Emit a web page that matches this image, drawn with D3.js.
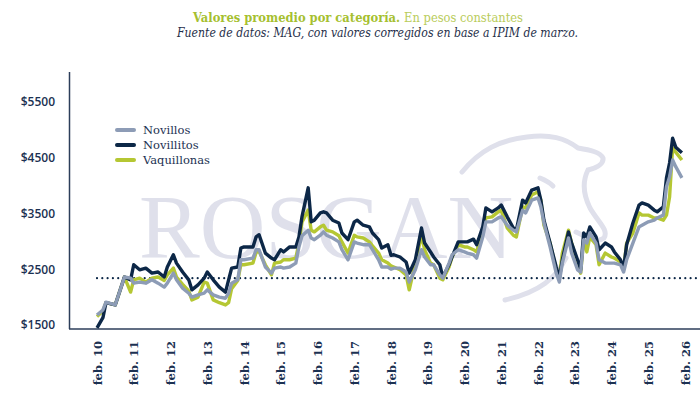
<!DOCTYPE html>
<html>
<head>
<meta charset="utf-8">
<script src="https://cdn.jsdelivr.net/npm/d3@7/dist/d3.min.js"></script>
<style>
  html, body { margin: 0; padding: 0; background: #ffffff; }
  svg { display: block; }
</style>
</head>
<body>
<svg id="chart" width="700" height="399"></svg>
<script>
// ---------------- DATA ----------------
const fechas = ["2010-02","2010-04","2010-05","2010-08","2010-11","2011-01","2011-02","2011-04","2011-06","2011-08","2011-10","2011-12",
"2012-01","2012-03","2012-04","2012-06","2012-08","2012-09","2012-11","2013-01","2013-02","2013-04","2013-06","2013-08","2013-09","2013-10","2013-12",
"2014-01","2014-02","2014-05","2014-06","2014-07","2014-09","2014-11","2014-12","2015-02","2015-03","2015-05","2015-07","2015-08","2015-09","2015-11","2015-12",
"2016-01","2016-03","2016-04","2016-05","2016-07","2016-09","2016-10","2016-12","2017-02","2017-03","2017-05","2017-07","2017-08","2017-10","2017-11",
"2018-01","2018-02","2018-03","2018-05","2018-07","2018-08","2018-10","2018-12","2019-01","2019-03","2019-04","2019-06","2019-07","2019-09","2019-10","2019-12",
"2020-02","2020-03","2020-05","2020-06","2020-08","2020-09","2020-11","2021-01","2021-02","2021-04","2021-06","2021-07","2021-09","2021-10","2021-12",
"2022-02","2022-03","2022-04","2022-06","2022-08","2022-09","2022-10","2022-12","2023-01","2023-03","2023-04","2023-05","2023-06","2023-07","2023-09","2023-10","2023-12",
"2024-02","2024-03","2024-05","2024-06","2024-07","2024-09","2024-11","2024-12","2025-02","2025-04","2025-05","2025-07","2025-08","2025-09","2025-10","2025-11","2026-01"];

const novillos = [1680,1770,1910,1860,2360,2340,2250,2270,2250,2310,2250,2180,
2250,2430,2310,2160,2070,2000,2040,2070,2130,2040,2000,1980,2070,2250,2310,
2670,2670,2700,2850,2850,2540,2430,2520,2540,2520,2540,2610,2900,3100,3200,3060,
3030,3110,3170,3110,3060,2990,2850,2670,2990,2970,2940,2940,2850,2670,2540,
2540,2500,2520,2520,2450,2270,2490,2850,2720,2580,2580,2400,2340,2610,2760,2850,
2810,2790,2760,2700,3080,3350,3350,3420,3440,3290,3200,3170,3560,3510,3740,
3780,3620,3330,2900,2430,2270,2610,3060,2790,2490,2450,3030,2970,3150,2970,2670,2610,
2610,2610,2580,2450,2670,2970,3260,3290,3350,3380,3420,3470,3980,4160,4460,4340,4140];

const novillitos = [1450,1630,1900,1860,2360,2310,2580,2490,2520,2430,2450,2360,
2540,2760,2610,2450,2310,2130,2220,2340,2450,2310,2180,2090,2310,2520,2540,
2880,2900,2900,3080,3120,2790,2700,2670,2850,2810,2900,2900,3080,3450,3960,3350,
3380,3510,3530,3510,3380,3330,3150,3030,3350,3380,3290,3260,3150,3030,2880,
2940,2750,2760,2720,2630,2430,2670,3240,2970,2810,2720,2580,2360,2580,2720,2990,
2990,2990,3040,2940,3260,3600,3530,3600,3650,3440,3240,3200,3740,3690,3920,
3960,3740,3380,2970,2540,2340,2670,3170,2970,2670,2490,3150,3080,3260,3080,2850,2970,
2900,2810,2670,2520,2940,3330,3650,3690,3650,3560,3530,3620,4140,4410,4850,4690,4590];

const vaquillonas = [1650,1750,1900,1860,2360,2090,2310,2340,2270,2340,2360,2300,
2400,2520,2360,2230,2110,1950,2000,2270,2250,1950,1900,1860,1900,2150,2300,
2580,2580,2610,2800,2820,2580,2400,2610,2630,2670,2670,2700,2970,3350,3560,3200,
3170,3260,3290,3200,3170,3100,2990,2790,3110,3080,3060,2990,2920,2790,2670,
2610,2560,2540,2490,2400,2130,2610,3110,2850,2610,2580,2340,2310,2540,2720,2940,
2900,2900,2850,2810,3200,3420,3440,3530,3560,3240,3110,3080,3620,3600,3830,
3890,3740,3290,2970,2490,2360,2790,3200,2970,2610,2430,3030,2810,3080,2940,2580,2790,
2720,2700,2630,2490,2970,3150,3510,3470,3470,3420,3420,3380,3470,3800,4680,4600,4460];

const promedioHistorico = 2340;
const ticksY = [1500, 2500, 3500, 4500, 5500];
const aniosX = [2010,2011,2012,2013,2014,2015,2016,2017,2018,2019,2020,2021,2022,2023,2024,2025,2026];
const etiquetasX = ["feb. 10","feb. 11","feb. 12","feb. 13","feb. 14","feb. 15","feb. 16","feb. 17","feb. 18","feb. 19","feb. 20","feb. 21","feb. 22","feb. 23","feb. 24","feb. 25","feb. 26"];
const series = ["Novillos", "Novillitos", "Vaquillonas"];
const colores = {"Novillos": "#8d9cb6", "Novillitos": "#0c2747", "Vaquillonas": "#b5c733"};

// ---------------- CHART ----------------
const svg = d3.select("#chart");
const navy = "#1c3152";
const parse = d3.timeParse("%Y-%m");
const dates = fechas.map(parse);

const x = d3.scaleTime()
  .domain([new Date(2010, 1, 1), new Date(2026, 1, 1)])
  .range([97, 685]);
const y = d3.scaleLinear()
  .domain([1428, 6038])
  .range([329, 72]);

// Title (one text element, two styled spans)
const t1 = svg.append("text")
  .attr("x", 193).attr("y", 22)
  .attr("font-family", "DejaVu Serif").attr("font-size", 12)
  .attr("textLength", 330).attr("lengthAdjust", "spacingAndGlyphs");
t1.append("tspan").attr("font-weight", "bold").attr("fill", "#a6bf30")
  .text("Valores promedio por categoría. ");
t1.append("tspan").attr("fill", "#b9cc5a").text("En pesos constantes");

svg.append("text")
  .attr("x", 177).attr("y", 37)
  .attr("font-family", "DejaVu Serif").attr("font-style", "italic").attr("font-size", 12.5)
  .attr("fill", "#1f2f4a")
  .attr("textLength", 401).attr("lengthAdjust", "spacingAndGlyphs")
  .text("Fuente de datos: MAG, con valores corregidos en base a IPIM de marzo.");

// Watermark
const wm = svg.append("g").attr("class", "watermark");
wm.append("text")
  .attr("x", 139).attr("y", 258)
  .attr("font-family", "Liberation Serif").attr("font-size", 91)
  .attr("fill", "#dfe0eb")
  .text("ROSGAN");
const bull = [
  "M462,172 C480,150 500,140 527,137 C550,134 565,138 578,148 C590,150 600,152 603,158 C604,165 596,168 588,170 C582,182 584,196 590,208 C598,222 609,230 604,238 C596,244 585,236 576,232",
  "M566,258 C556,278 540,292 505,300",
  "M540,178 C545,180 550,183 553,186"
];
wm.selectAll("path.bull").data(bull).join("path")
  .attr("class", "bull")
  .attr("d", d => d)
  .attr("fill", "none")
  .attr("stroke", "#dfe0eb")
  .attr("stroke-width", 5)
  .attr("stroke-linecap", "round");

// Axes lines
svg.append("line")
  .attr("x1", 69.5).attr("x2", 69.5).attr("y1", y(6038)).attr("y2", y(1428))
  .attr("stroke", "#2c3e5a").attr("stroke-width", 1.5);
svg.append("line")
  .attr("x1", 69).attr("x2", 700).attr("y1", y(1428)).attr("y2", y(1428))
  .attr("stroke", "#2c3e5a").attr("stroke-width", 1.5);

// Y axis labels
const yAxis = d3.axisLeft(y).tickValues(ticksY).tickSize(0).tickPadding(0)
  .tickFormat(d => "$" + d);
const gy = svg.append("g").attr("transform", "translate(55,0)").call(yAxis);
gy.select(".domain").remove();
gy.selectAll("text")
  .attr("font-family", "Open Sans").attr("font-weight", 600).attr("font-size", 12)
  .attr("fill", navy);

// X axis labels
const xAxis = d3.axisBottom(x)
  .tickValues(aniosX.map(a => new Date(a, 1, 1)))
  .tickSize(0).tickPadding(0)
  .tickFormat((d, i) => etiquetasX[i]);
const gx = svg.append("g").attr("transform", "translate(0,341)").call(xAxis);
gx.select(".domain").remove();
gx.selectAll("text")
  .attr("font-family", "DejaVu Serif").attr("font-weight", "bold").attr("font-size", 11.5)
  .attr("fill", navy)
  .attr("transform", "rotate(-90)")
  .attr("text-anchor", "end")
  .attr("x", 0).attr("y", 0).attr("dy", "0.35em");

// Dotted average line
svg.append("line")
  .attr("x1", 97).attr("x2", 700)
  .attr("y1", y(promedioHistorico)).attr("y2", y(promedioHistorico))
  .attr("stroke", "#0c2747").attr("stroke-width", 2.2)
  .attr("stroke-linecap", "round").attr("stroke-dasharray", "0 5.3");

// Lines
const valores = {"Novillos": novillos, "Novillitos": novillitos, "Vaquillonas": vaquillonas};
const line = d3.line().x(d => x(d[0])).y(d => y(d[1])).curve(d3.curveLinear);
["Vaquillonas", "Novillitos", "Novillos"].forEach(s => {
  svg.append("path")
    .datum(dates.map((d, i) => [d, valores[s][i]]))
    .attr("fill", "none")
    .attr("stroke", colores[s])
    .attr("stroke-width", 3.4)
    .attr("stroke-linejoin", "round")
    .attr("d", line);
});

// Legend
const lg = svg.append("g").attr("transform", "translate(117,130)");
series.forEach((s, i) => {
  const g = lg.append("g").attr("transform", `translate(0,${i * 15})`);
  g.append("line").attr("x1", 0).attr("x2", 17).attr("y1", 0).attr("y2", 0)
    .attr("stroke", colores[s]).attr("stroke-width", 4).attr("stroke-linecap", "round");
  g.append("text").attr("x", 26).attr("y", 0).attr("dy", "0.35em")
    .attr("font-family", "DejaVu Serif").attr("font-size", 11.5)
    .attr("fill", navy).text(s);
});
</script>
</body>
</html>
